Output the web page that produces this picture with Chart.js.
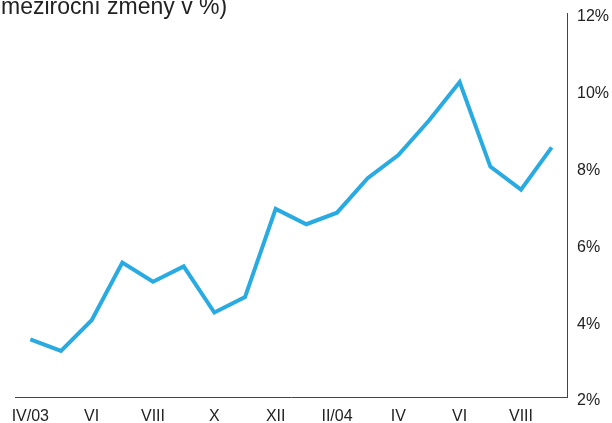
<!DOCTYPE html>
<html>
<head>
<meta charset="utf-8">
<script src="https://cdn.jsdelivr.net/npm/chart.js@4/dist/chart.umd.min.js"></script>
<style>
  html, body { margin: 0; padding: 0; background: #fff; }
  #wrap { width: 612px; height: 423px; position: relative; }
</style>
</head>
<body>
<div id="wrap"><canvas id="canvas1"></canvas></div>
<script>
// months IV/03 .. IX/04, every other one gets a tick label
const months = ['IV/03','V','VI','VII','VIII','IX','X','XI','XII','I/04','II/04','III','IV','V','VI','VII','VIII','IX'];
// year-on-year change, %
const values = [3.5, 3.2, 4.0, 5.5, 5.0, 5.4, 4.2, 4.6, 6.9, 6.5, 6.8, 7.7, 8.3, 9.2, 10.2, 8.0, 7.4, 8.5];
const yTicks = [2, 4, 6, 8, 10, 12];
const titleText = 'meziroční změny v %)';

window.addEventListener('load', () => {
  const canvas1 = document.getElementById('canvas1');

  // partly cut-off heading at top left
  const heading = {
    id: 'heading',
    afterDraw(chart) {
      const ctx = chart.ctx;
      ctx.save();
      ctx.font = '23px "Liberation Sans", Arial, sans-serif';
      ctx.fillStyle = '#222';
      ctx.textBaseline = 'alphabetic';
      ctx.textAlign = 'left';
      ctx.fillText(titleText, 1, 13.5);
      ctx.restore();
    }
  };

  new Chart(canvas1, {
    type: 'line',
    data: {
      labels: months,
      datasets: [{
        data: values,
        borderColor: '#29abe2',
        borderWidth: 4,
        pointRadius: 0,
        tension: 0,
        fill: false
      }]
    },
    options: {
      responsive: true,
      maintainAspectRatio: false,
      animation: false,
      layout: { padding: { left: 15, top: 13, right: 0, bottom: 0 } },
      plugins: { legend: { display: false }, tooltip: { enabled: false } },
      scales: {
        x: {
          offset: true,
          grid: { display: false },
          border: { display: true, color: '#444', width: 1 },
          ticks: {
            autoSkip: false,
            maxRotation: 0,
            padding: 2,
            color: '#222',
            font: { family: '"Liberation Sans", Arial, sans-serif', size: 16 },
            callback: (v, i) => (i % 2 === 0 ? months[i] : '')
          },
          afterFit: (s) => { s.height = 26; s.paddingLeft = 0; s.paddingRight = 0; }
        },
        y: {
          position: 'right',
          min: 2,
          max: 12,
          afterBuildTicks: (s) => { s.ticks = yTicks.map(v => ({ value: v })); },
          grid: { display: false },
          border: { display: true, color: '#444', width: 1 },
          ticks: {
            padding: 2,
            labelOffset: 4,
            color: '#222',
            font: { family: '"Liberation Sans", Arial, sans-serif', size: 16 },
            callback: (v) => v + '%'
          },
          afterFit: (s) => { s.width = 45; s.paddingTop = 0; s.paddingBottom = 0; }
        }
      }
    },
    plugins: [heading]
  });
});
</script>
</body>
</html>
